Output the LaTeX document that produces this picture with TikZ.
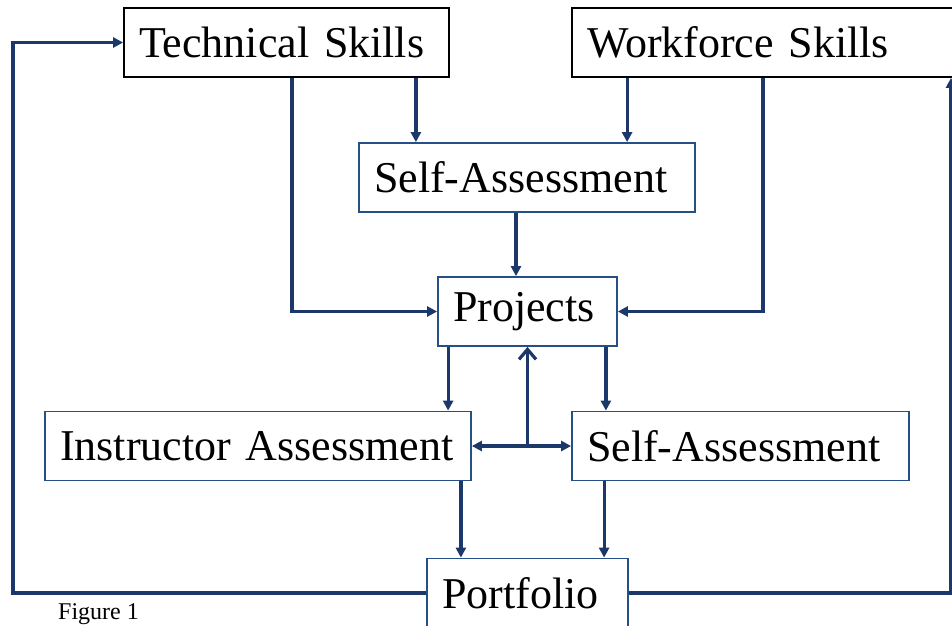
\documentclass[tikz,border=0pt]{standalone}
\usepackage{fontspec}
\setmainfont{Liberation Serif}
\usepackage{tikz}
\usetikzlibrary{arrows.meta}

\definecolor{linkblue}{RGB}{28,55,105}
\definecolor{boxblue}{RGB}{38,78,135}

\begin{document}
\begin{tikzpicture}[x=1pt,y=-1pt]

      \clip (0,0) rectangle (952,625);

      \begin{scope}[every node/.style={draw=boxblue,line width=1.8pt,inner xsep=15pt,inner ysep=0pt,
          minimum height=69pt,align=left,font=\fontsize{44}{48}\selectfont}]
        \node[draw=black,text width=295pt] (tech) at (286.5,42.5) {Technical Skills};
        \node[draw=black,text width=358pt] (work) at (766,42.5) {Workforce Skills};
        \node[text width=306pt] (sa1) at (527,177.5) {Self-Assessment};
        \node[text width=149pt] (proj) at (527.5,311.5) {Projects};
        \node[text width=396pt] (inst) at (258,446) {Instructor Assessment};
        \node[text width=307pt] (sa2) at (740.5,446) {Self-Assessment};
        \node[text width=171pt] (port) at (527.5,593) {Portfolio};
      \end{scope}

      \node[anchor=base west,inner sep=0pt,font=\fontsize{24}{26}\selectfont] (fig) at (58,619) {Figure 1};

      \coordinate (lft) at (13,0);
      \coordinate (rgt) at (951,0);

      \begin{scope}[>={Triangle[length=10pt,width=10pt]},
          link/.style={draw=linkblue,line width=3.2pt},
          every edge/.style={link}]
        \path [->] ([xshift=-34pt]tech.south east) edge ([xshift=-34pt]tech.south east |- sa1.north);
        \path [->] ([xshift=56pt]work.south west) edge ([xshift=56pt]work.south west |- sa1.north);
        \path [->] ([xshift=-11pt]sa1.south) edge ([xshift=-11pt]sa1.south |- proj.north);
        \path [->] ([xshift=11pt]proj.south west) edge ([xshift=11pt]proj.south west |- inst.north);
        \path [->] ([xshift=-12pt]proj.south east) edge ([xshift=-12pt]proj.south east |- sa2.north);
        \path [->] ([xshift=-11pt]inst.south east) edge ([xshift=-11pt]inst.south east |- port.north);
        \path [->] ([xshift=33pt]sa2.south west) edge ([xshift=33pt]sa2.south west |- port.north);
        \path [<->] (inst.east) edge (sa2.west);
        \path [-{Straight Barb[length=10pt,width=17pt]}] (proj.south |- inst.east) edge (proj.south);

        \draw [link,->] ([xshift=5.5pt]tech.south) |- (proj.west);
        \draw [link,->] ([xshift=-3pt]work.south) |- (proj.east);
        \draw [link,->] (port.west) -- (port.west -| lft) |- (tech.west);
        \draw [link,->] (port.east) -- (port.east -| rgt) -- (rgt |- work.south);
      \end{scope}
    \end{tikzpicture}
\end{document}
